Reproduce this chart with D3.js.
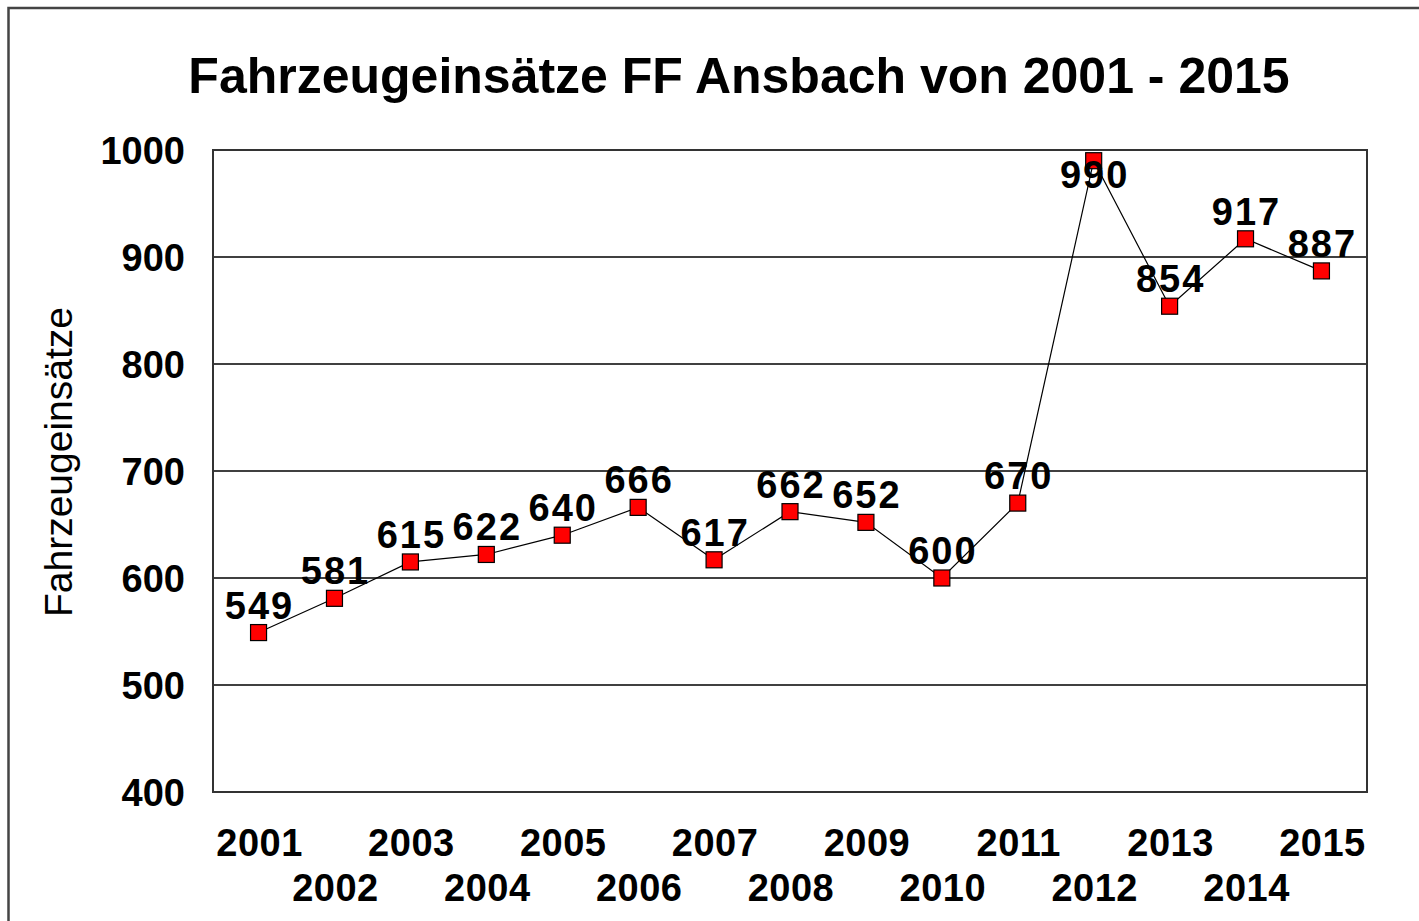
<!DOCTYPE html>
<html>
<head>
<meta charset="utf-8">
<script src="https://cdn.jsdelivr.net/npm/d3@7"></script>
<style>
  body { margin: 0; background: #fff; }
  text { font-family: "Liberation Sans", Arial, sans-serif; fill: #000; }
</style>
</head>
<body>
<div id="chart"></div>
<script>
// chart data
var years = ["2001", "2002", "2003", "2004", "2005", "2006", "2007", "2008",
             "2009", "2010", "2011", "2012", "2013", "2014", "2015"];
var einsaetze = [549, 581, 615, 622, 640, 666, 617, 662, 652, 600, 670, 990, 854, 917, 887];
var yTicks = [400, 500, 600, 700, 800, 900, 1000];

var width = 1419,
  height = 921;

// plot area
var plotLeft = 213, plotRight = 1367, plotTop = 150, plotBottom = 792;

var svg = d3.select("#chart").append("svg")
  .attr("width", width)
  .attr("height", height);

// outer chart frame (runs off the picture at right and bottom)
svg.append("rect")
  .attr("x", 8.5).attr("y", 8)
  .attr("width", 1440).attr("height", 960)
  .attr("fill", "none")
  .attr("stroke", "#444")
  .attr("stroke-width", 2.5);

var x = d3.scalePoint()
  .domain(years)
  .range([plotLeft, plotRight])
  .padding(0.6);

var y = d3.scaleLinear()
  .domain([400, 1000])
  .range([plotBottom, plotTop]);

// gridlines
svg.append("g")
  .selectAll("line")
  .data(yTicks.filter(function(d) { return d > 400 && d < 1000; }))
  .enter()
  .append("line")
  .attr("x1", plotLeft).attr("x2", plotRight)
  .attr("y1", function(d) { return y(d); })
  .attr("y2", function(d) { return y(d); })
  .attr("stroke", "#000")
  .attr("stroke-width", 1.3);

// plot frame
svg.append("rect")
  .attr("x", plotLeft).attr("y", plotTop)
  .attr("width", plotRight - plotLeft).attr("height", plotBottom - plotTop)
  .attr("fill", "none")
  .attr("stroke", "#333")
  .attr("stroke-width", 2);

// y tick labels
svg.append("g")
  .selectAll("text")
  .data(yTicks)
  .enter()
  .append("text")
  .attr("x", 185)
  .attr("y", function(d) { return y(d); })
  .attr("dy", "0.36em")
  .attr("text-anchor", "end")
  .style("font-size", "38px")
  .style("font-weight", "bold")
  .text(function(d) { return d; });

// x tick labels, staggered on two rows
svg.append("g")
  .selectAll("text")
  .data(years)
  .enter()
  .append("text")
  .attr("x", function(d) { return x(d) + 1; })
  .attr("y", function(d, i) { return i % 2 === 0 ? 856 : 901; })
  .attr("text-anchor", "middle")
  .style("font-size", "38px")
  .style("font-weight", "bold")
  .style("letter-spacing", "0.5px")
  .text(function(d) { return d; });

// title
svg.append("text")
  .attr("x", 739)
  .attr("y", 93)
  .attr("text-anchor", "middle")
  .style("font-size", "50px")
  .style("font-weight", "bold")
  .text("Fahrzeugeinsätze FF Ansbach von 2001 - 2015");

// y axis title
svg.append("text")
  .attr("transform", "translate(72,462) rotate(-90)")
  .attr("text-anchor", "middle")
  .style("font-size", "39px")
  .text("Fahrzeugeinsätze");

// line
var line = d3.line()
  .x(function(d, i) { return x(years[i]); })
  .y(function(d) { return y(d); });

svg.append("path")
  .datum(einsaetze)
  .attr("d", line)
  .attr("fill", "none")
  .attr("stroke", "#000")
  .attr("stroke-width", 1.2);

// markers
svg.append("g")
  .selectAll("rect")
  .data(einsaetze)
  .enter()
  .append("rect")
  .attr("x", function(d, i) { return x(years[i]) - 8; })
  .attr("y", function(d) { return y(d) - 8; })
  .attr("width", 16).attr("height", 16)
  .attr("fill", "#ff0000")
  .attr("stroke", "#000")
  .attr("stroke-width", 1.2);

// data labels (kept inside the plot area like in the original)
svg.append("g")
  .selectAll("text")
  .data(einsaetze)
  .enter()
  .append("text")
  .attr("x", function(d, i) { return x(years[i]) + 1; })
  .attr("y", function(d) { return Math.max(y(d) - 14, plotTop + 38); })
  .attr("text-anchor", "middle")
  .style("font-size", "38px")
  .style("font-weight", "bold")
  .style("letter-spacing", "2px")
  .text(function(d) { return d; });
</script>
</body>
</html>
